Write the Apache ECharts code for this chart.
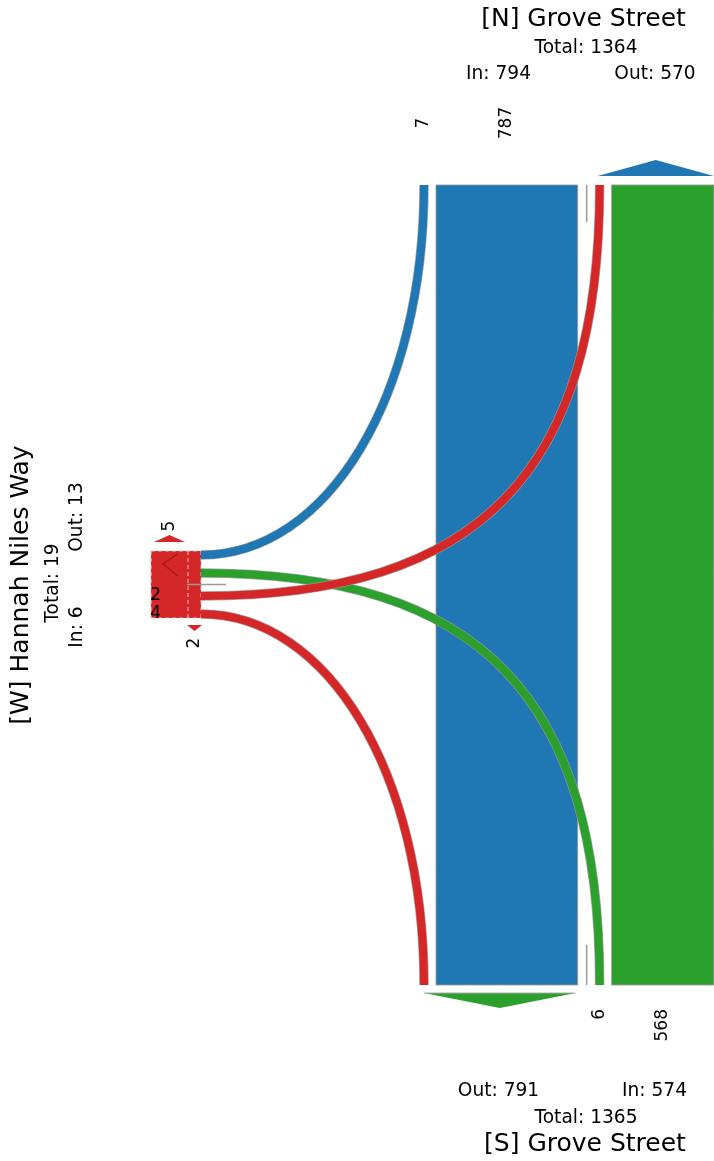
<!DOCTYPE html>
<html><head><meta charset="utf-8">
<script src="https://cdn.jsdelivr.net/npm/echarts@6/dist/echarts.min.js"></script>
<style>html,body{margin:0;padding:0;background:#fff}#c{width:714px;height:1161px}</style>
</head><body><div id="c"></div>
<script>
// ---- data ----
const approachKeys = ['N', 'S', 'W'];
const approachNames = ['[N] Grove Street', '[S] Grove Street', '[W] Hannah Niles Way'];
const approachTotals = [1364, 1365, 19];
const approachIn = [794, 574, 6];
const approachOut = [570, 791, 13];
const flowFrom = ['N', 'N', 'S', 'S', 'W', 'W'];
const flowTo = ['S', 'W', 'N', 'W', 'N', 'S'];
const flowValues = [787, 7, 568, 6, 2, 4];
const wArrowLabels = ['5', '2'];

// ---- styles ----
const COLORS = { N: '#1f77b4', S: '#2ca02c', W: '#d62728' };
const FONT = '"DejaVu Sans", "Liberation Sans", sans-serif';
const EDGE = 'rgba(150,150,150,0.85)';

const K = 0.18, MINW = 8;
function flowVal(f, t) { for (let i = 0; i < flowFrom.length; i++) if (flowFrom[i] === f && flowTo[i] === t) return flowValues[i]; return 0; }
function bw(v) { return Math.max(v * K, MINW); }

function renderAll(params, api) {
  const P = (x, y) => api.coord([x, y]);
  const S = (d) => api.size([d, 0])[0];
  const ch = [];
  const yN = 185, yS = 985, xW = 201;
  const x0 = 420, gap = 8, med = 18;
  // N lanes
  const n = {}; let x = x0;
  n.toW = [x, x + bw(flowVal('N', 'W'))]; x = n.toW[1] + gap;
  n.toS = [x, x + bw(flowVal('N', 'S'))]; x = n.toS[1] + med;
  n.fromW = [x, x + bw(flowVal('W', 'N'))]; x = n.fromW[1] + gap;
  n.fromS = [x, x + bw(flowVal('S', 'N'))];
  // S lanes
  const s = {}; x = x0;
  s.fromW = [x, x + bw(flowVal('W', 'S'))]; x = s.fromW[1] + gap;
  s.fromN = [x, x + bw(flowVal('N', 'S'))]; x = s.fromN[1] + med;
  s.toW = [x, x + bw(flowVal('S', 'W'))]; x = s.toW[1] + gap;
  s.toN = [x, x + bw(flowVal('S', 'N'))];
  // W lanes
  const w = {}; let y = 551; const gw = 10, mw = 15;
  w.fromN = [y, y + bw(flowVal('N', 'W'))]; y = w.fromN[1] + gw;
  w.fromS = [y, y + bw(flowVal('S', 'W'))]; y = w.fromS[1] + mw;
  w.toN = [y, y + bw(flowVal('W', 'N'))]; y = w.toN[1] + gw;
  w.toS = [y, y + bw(flowVal('W', 'S'))];
  const mid = a => (a[0] + a[1]) / 2;

  function rect(xa, ya, xb, yb, fill, stroke) {
    const a = P(xa, ya), b = P(xb, yb);
    ch.push({ type: 'rect', shape: { x: Math.min(a[0], b[0]), y: Math.min(a[1], b[1]), width: Math.abs(b[0] - a[0]), height: Math.abs(b[1] - a[1]) },
      style: { fill: fill, stroke: stroke || null, lineWidth: 1 } });
  }
  function poly(pts, fill, stroke) {
    ch.push({ type: 'polygon', shape: { points: pts.map(p => P(p[0], p[1])) }, style: { fill: fill, stroke: stroke || null, lineWidth: 1 } });
  }
  function line(xa, ya, xb, yb, stroke, lw, dash) {
    const a = P(xa, ya), b = P(xb, yb);
    ch.push({ type: 'line', shape: { x1: a[0], y1: a[1], x2: b[0], y2: b[1] }, style: { stroke: stroke, lineWidth: lw, lineDash: dash || null } });
  }
  function curve(a, b, corner, value, color, k) {
    const c1 = [a[0] + (corner[0] - a[0]) * k, a[1] + (corner[1] - a[1]) * k];
    const c2 = [b[0] + (corner[0] - b[0]) * k, b[1] + (corner[1] - b[1]) * k];
    const A = P(a[0], a[1]), B = P(b[0], b[1]), C1 = P(c1[0], c1[1]), C2 = P(c2[0], c2[1]);
    const shape = { x1: A[0], y1: A[1], x2: B[0], y2: B[1], cpx1: C1[0], cpy1: C1[1], cpx2: C2[0], cpy2: C2[1] };
    const lw = S(bw(value));
    ch.push({ type: 'bezierCurve', shape: shape, style: { stroke: EDGE, lineWidth: lw + 1.5, fill: null, lineCap: 'butt' } });
    ch.push({ type: 'bezierCurve', shape: shape, style: { stroke: color, lineWidth: lw, fill: null, lineCap: 'butt' } });
  }
  function text(str, tx, ty, size, rot, align, valign) {
    const p = P(tx, ty);
    ch.push({ type: 'text', x: p[0], y: p[1], rotation: rot || 0,
      style: { text: str, x: 0, y: 0, fill: '#000', font: size + 'px ' + FONT, align: align || 'center', verticalAlign: valign || 'middle' } });
  }

  // straight movements
  rect(n.toS[0], yN, n.toS[1], yS, COLORS.N, EDGE);
  rect(s.toN[0], yN, s.toN[1], yS, COLORS.S, EDGE);

  // median separators
  const mN = (n.toS[1] + n.fromW[0]) / 2;
  line(mN, yN, mN, yN + 37, '#999', 1.5);
  line(mN, yS - 40, mN, yS, '#999', 1.5);

  // W approach box
  const boxL = 151;
  rect(boxL, w.fromN[0], xW, w.toS[1], COLORS.W, null);
  const dashC = 'rgba(230,195,195,0.95)';
  line(boxL, w.fromN[0], xW, w.fromN[0], dashC, 1.2, [4, 3]);
  line(boxL, w.toS[1], xW, w.toS[1], dashC, 1.2, [4, 3]);
  line(boxL, w.fromN[0], boxL, w.toS[1], dashC, 1.2, [4, 3]);
  line(xW, w.fromN[0], xW, w.toS[1], dashC, 1, [4, 3]);
  line(188, w.fromN[0], 188, w.toS[1], dashC, 1, [4, 3]);
  ch.push({ type: 'polyline', shape: { points: [P(177, 554), P(163, 564), P(178, 576)] }, style: { stroke: 'rgba(120,20,20,0.55)', lineWidth: 1.5, fill: null } });
  const mW = (w.fromS[1] + w.toN[0]) / 2;
  line(187, mW, 226, mW, '#999', 1.5);

  // turning movements
  curve([mid(n.toW), yN], [xW, mid(w.fromN)], [mid(n.toW), mid(w.fromN)], flowVal('N', 'W'), COLORS.N, 0.57);
  curve([mid(s.toW), yS], [xW, mid(w.fromS)], [mid(s.toW), mid(w.fromS)], flowVal('S', 'W'), COLORS.S, 0.7);
  curve([xW, mid(w.toN)], [mid(n.fromW), yN], [mid(n.fromW), mid(w.toN)], flowVal('W', 'N'), COLORS.W, 0.7);
  curve([xW, mid(w.toS)], [mid(s.fromW), yS], [mid(s.fromW), mid(w.toS)], flowVal('W', 'S'), COLORS.W, 0.57);

  // direction arrows
  poly([[n.fromW[0] + 2, 176], [n.fromS[1], 176], [(n.fromW[0] + 2 + n.fromS[1]) / 2, 160]], COLORS.N);
  poly([[s.fromW[0] + 4, 993], [s.fromN[1] - 2, 993], [(s.fromW[0] + s.fromN[1] + 2) / 2, 1008]], COLORS.S);
  line(s.fromW[0] + 4, 993, s.fromN[1] - 2, 993, '#aaa', 1);
  poly([[154, 542], [185, 542], [169.5, 535]], COLORS.W);
  poly([[187, 625], [202, 625], [194.5, 631]], COLORS.W);

  // lane labels
  const R = Math.PI / 2;
  text(String(flowVal('N', 'W')), mid(n.toW), 123, 17, R);
  text(String(flowVal('N', 'S')), mid(n.toS), 123, 17, R);
  text(String(flowVal('S', 'W')), mid(s.toW), 1009, 17, R, 'right');
  text(String(flowVal('S', 'N')), mid(s.toN), 1009, 17, R, 'right');
  text(String(flowVal('W', 'N')), 161, mid(w.toN), 17, 0, 'right');
  text(String(flowVal('W', 'S')), 161, mid(w.toS), 17, 0, 'right');
  text(wArrowLabels[0], 169.5, 526, 17, R);
  text(wArrowLabels[1], 194.5, 643, 17, R);

  // approach titles
  text(approachNames[0], 583.5, 19, 25);
  text('Total: ' + approachTotals[0], 586, 48.5, 18.6);
  text('In: ' + approachIn[0], 498.5, 74.5, 18.6);
  text('Out: ' + approachOut[0], 655, 74.5, 18.6);

  text('Out: ' + approachOut[1], 498.5, 1091, 18.6);
  text('In: ' + approachIn[1], 654.5, 1091, 18.6);
  text('Total: ' + approachTotals[1], 586, 1118, 18.6);
  text(approachNames[1], 585, 1144, 25);

  text(approachNames[2], 21, 585, 25, R);
  text('Total: ' + approachTotals[2], 53, 583, 18.6, R);
  text('Out: ' + approachOut[2], 77, 517, 18.6, R);
  text('In: ' + approachIn[2], 77, 627, 18.6, R);

  return { type: 'group', children: ch };
}

const chart = echarts.init(document.getElementById('c'), null, { renderer: 'canvas' });
chart.setOption({
  animation: false,
  backgroundColor: '#fff',
  grid: { left: 0, right: 0, top: 0, bottom: 0 },
  xAxis: { type: 'value', min: 0, max: 714, show: false },
  yAxis: { type: 'value', min: 0, max: 1161, inverse: true, show: false },
  series: [{ type: 'custom', clip: false, data: [[0, 0]], renderItem: renderAll }]
});
</script>
</body></html>
